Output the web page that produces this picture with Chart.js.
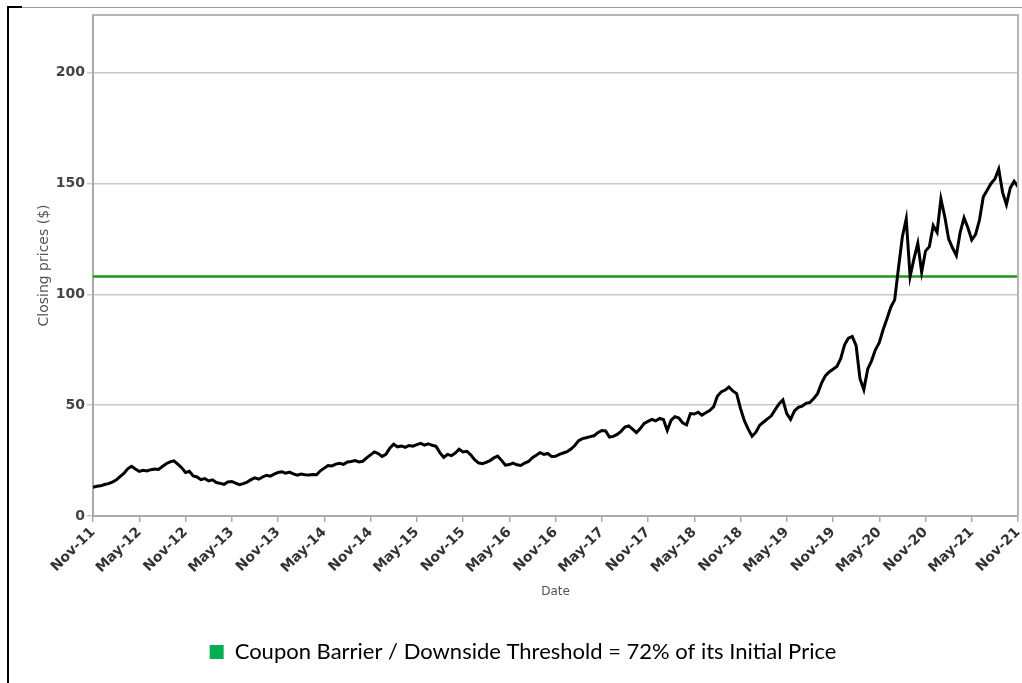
<!DOCTYPE html>
<html>
<head>
<meta charset="utf-8">
<script src="https://cdn.jsdelivr.net/npm/chart.js@4.4.1/dist/chart.umd.min.js"></script>
<style>
  body { margin: 0; background: #fff; }
  #frame { position: absolute; left: 7px; top: 7px; width: 1015px; height: 676px; border-left: 2px solid #000; border-top: 1px solid #999; }
  #corner { position: absolute; left: 7px; top: 6px; width: 15px; height: 2px; background: #000; }
  #priceChart { position: absolute; left: 0; top: 0; }
</style>
</head>
<body>
<div id="frame"></div>
<div id="corner"></div>
<canvas id="priceChart" width="1022" height="683"></canvas>
<script>
    // tick labels, one every 6 months from Nov-11
    var tickLabels = ["Nov-11", "May-12", "Nov-12", "May-13", "Nov-13", "May-14", "Nov-14",
      "May-15", "Nov-15", "May-16", "Nov-16", "May-17", "Nov-17", "May-18", "Nov-18",
      "May-19", "Nov-19", "May-20", "Nov-20", "May-21", "Nov-21"];

    // closing prices, one value every half month from Nov-11 to Nov-21
    var closingPrices = [
      13.0, 13.4, 13.6, 14.2, 14.6, 15.3, 16.2, 17.8, 19.2, 21.3,
      22.4, 21.2, 20.1, 20.6, 20.3, 20.9, 21.2, 21.0, 22.3, 23.6,
      24.4, 24.9, 23.4, 21.8, 19.6, 20.2, 18.1, 17.6, 16.4, 16.9,
      15.8, 16.3, 15.1, 14.7, 14.3, 15.4, 15.6, 14.8, 14.1, 14.6,
      15.3, 16.4, 17.2, 16.6, 17.6, 18.4, 18.0, 18.9, 19.6, 19.9,
      19.3, 19.8, 19.0, 18.4, 18.9, 18.6, 18.5, 18.7, 18.6, 20.4,
      21.6, 22.8, 22.6, 23.4, 23.8, 23.3, 24.4, 24.6, 25.0, 24.4,
      24.7, 26.2, 27.6, 28.9, 28.2, 26.9, 27.8, 30.6, 32.4, 31.2,
      31.6, 31.0, 31.8, 31.5, 32.2, 32.8, 32.0, 32.6, 31.9, 31.4,
      28.6, 26.4, 27.8, 27.2, 28.4, 30.1, 28.9, 29.2, 27.6, 25.4,
      24.0, 23.6, 24.2, 25.0, 26.2, 27.0, 25.1, 22.9, 23.2, 23.9,
      23.1, 22.8, 23.9, 24.6, 26.3, 27.4, 28.6, 27.8, 28.2, 26.8,
      26.9, 27.8, 28.4, 29.0, 30.2, 31.8, 34.0, 34.9, 35.3, 35.8,
      36.2, 37.6, 38.6, 38.4, 35.6, 35.9, 36.8, 38.2, 40.1, 40.6,
      39.2, 37.6, 39.4, 41.8, 42.7, 43.6, 42.9, 44.0, 43.5, 38.6,
      43.2, 44.8, 44.2, 42.0, 41.1, 46.2, 46.0, 46.8, 45.5, 46.6,
      47.6, 49.2, 54.0, 56.0, 56.8, 58.2, 56.4, 55.2, 48.5, 43.0,
      39.2, 36.0, 37.8, 41.0, 42.4, 43.8, 45.2, 48.0, 50.6, 52.4,
      46.2, 43.6, 47.4, 49.0, 49.6, 50.8, 51.2, 53.0, 55.2, 59.8,
      63.2, 65.0, 66.2, 67.4, 71.0, 77.2, 80.2, 81.0, 76.8, 62.0,
      57.0, 66.2, 70.0, 75.0, 78.2, 84.0, 89.0, 94.2, 97.5, 112.0,
      126.0, 134.0, 108.0, 116.0, 123.0, 110.0, 119.5, 121.5, 131.0, 128.0,
      143.0, 135.0, 125.0, 121.0, 117.5, 128.0, 134.5, 130.0, 124.5, 127.0,
      133.5, 144.0, 147.0, 150.0, 152.0, 156.5, 146.0, 140.5, 148.0, 151.0,
      148.5
    ];

    var barrierLevel = 108;
    var barrierLabel = "Coupon Barrier / Downside Threshold = 72% of its Initial Price";

    var priceData = closingPrices.map(function(v, i) { return { x: i / 2, y: v }; });
    var barrierData = [{ x: 0, y: barrierLevel }, { x: 120, y: barrierLevel }];

    // grey box round the plot area
    var plotFrame = {
      id: 'plotFrame',
      afterDraw: function(chart) {
        var a = chart.chartArea;
        var ctx = chart.ctx;
        ctx.save();
        ctx.strokeStyle = '#b4b4b4';
        ctx.lineWidth = 2;
        ctx.beginPath();
        ctx.moveTo(a.left, a.top);
        ctx.lineTo(a.right, a.top);
        ctx.lineTo(a.right, a.bottom);
        ctx.stroke();
        ctx.restore();
      }
    };

    var ctx = document.getElementById('priceChart').getContext('2d');
    var priceChart = new Chart(ctx, {
      type: 'line',
      data: {
        datasets: [{
          label: 'Closing price',
          data: priceData,
          borderColor: '#000000',
          borderWidth: 3,
          pointRadius: 0,
          tension: 0
        }, {
          label: barrierLabel,
          data: barrierData,
          borderColor: '#1e961e',
          backgroundColor: '#00b050',
          borderWidth: 2.5,
          pointRadius: 0
        }]
      },
      plugins: [plotFrame],
      options: {
        responsive: false,
        animation: false,
        layout: { padding: { top: 15, right: 4, bottom: 10, left: 28 } },
        scales: {
          x: {
            type: 'linear',
            min: 0,
            max: 120,
            afterBuildTicks: function(scale) {
              scale.ticks = tickLabels.map(function(t, i) { return { value: i * 6 }; });
            },
            afterFit: function(scale) {
              scale.height = 115;
              scale.paddingRight = 0;
            },
            ticks: {
              minRotation: 45,
              maxRotation: 45,
              padding: 2,
              autoSkip: false,
              color: '#333',
              font: { family: 'DejaVu Sans', size: 14, weight: 'bold' },
              callback: function(value) { return tickLabels[Math.round(value / 6)]; }
            },
            grid: { drawOnChartArea: false, tickLength: 6, color: '#aaaaaa', lineWidth: 1.5 },
            border: { color: '#aaaaaa', width: 2 },
            title: {
              display: true,
              text: 'Date',
              color: '#555',
              font: { family: 'DejaVu Sans', size: 12 },
              padding: { top: 0, bottom: 32 }
            }
          },
          y: {
            min: 0,
            max: 226,
            afterBuildTicks: function(scale) {
              scale.ticks = scale.ticks.filter(function(t) { return t.value % 50 === 0; });
            },
            afterFit: function(scale) {
              scale.width = 65;
            },
            ticks: {
              stepSize: 50,
              padding: 2,
              color: '#444',
              font: { family: 'DejaVu Sans', size: 14, weight: 'bold' }
            },
            grid: { color: '#c8c8c8', lineWidth: 1.5, tickLength: 6 },
            border: { color: '#aaaaaa', width: 2 },
            title: {
              display: true,
              text: 'Closing prices ($)',
              color: '#555',
              font: { family: 'DejaVu Sans', size: 14 },
              padding: { top: 8, bottom: 0 }
            }
          }
        },
        plugins: {
          tooltip: { enabled: false },
          legend: {
            position: 'bottom',
            labels: {
              boxWidth: 14,
              boxHeight: 14,
              padding: 10,
              color: '#000',
              font: { family: 'Lato', size: 22 },
              generateLabels: function(chart) {
                var items = Chart.defaults.plugins.legend.labels.generateLabels(chart);
                return items.filter(function(it) { return it.datasetIndex === 1; }).map(function(it) {
                  it.fillStyle = '#00b050';
                  it.strokeStyle = '#00b050';
                  it.lineWidth = 0;
                  return it;
                });
              }
            }
          }
        }
      }
    });
</script>
</body>
</html>
